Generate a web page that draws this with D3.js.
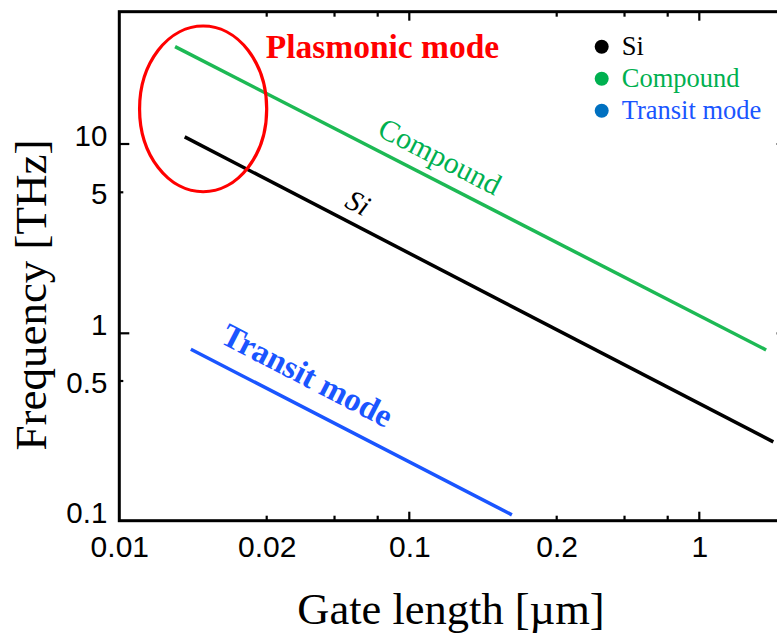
<!DOCTYPE html>
<html>
<head>
<meta charset="utf-8">
<script src="https://cdn.jsdelivr.net/npm/d3@7/dist/d3.min.js"></script>
<style>
  html, body { margin: 0; padding: 0; background: #fff; }
  svg { display: block; }
</style>
</head>
<body>
<svg id="chart" width="777" height="637"></svg>
<script>
// Gate length (µm) vs. cut-off frequency (THz), log–log
const siGate = [0.0136, 1.80];
const siFreq = [10.9, 0.248];
const compoundGate = [0.0130, 1.70];
const compoundFreq = [32.7, 0.785];
const transitGate = [0.0140, 0.162];
const transitFreq = [0.793, 0.107];

// Region highlighted as the plasmonic regime
const plasmonGate = [0.011, 0.02];
const plasmonFreq = [5.04, 42];

// Axis ticks
const xTickValues = [0.01, 0.02, 0.1, 0.2, 1];
const xTickLabels = ["0.01", "0.02", "0.1", "0.2", "1"];
const xMinorTicks = [0.043, 0.07, 0.43, 0.7];
const yTickValues = [0.1, 0.5, 1, 5, 10];
const yTickLabels = ["0.1", "0.5", "1", "5", "10"];
const xExtent = [0.01, 2];
const yExtent = [0.1, 50];

const legendLabels = ["Si", "Compound", "Transit mode"];
const legendDots = ["#000000", "#00b050", "#0070c0"];
const legendText = ["#000000", "#00b050", "#1a55ff"];

const serif = "'Liberation Serif', 'Times New Roman', serif";
const sans = "'Liberation Sans', Arial, sans-serif";

const svg = d3.select("#chart");

// Piecewise log scales: each labelled tick is an anchor of the axis
const x = d3.scaleLog()
  .domain([0.01, 0.02, 0.1, 0.2, 1, 10])
  .range([119.3, 266.7, 409.3, 556.7, 699.3, 989.3]);
const y = d3.scaleLog()
  .domain([0.1, 0.5, 1, 5, 10, 100])
  .range([520.7, 381, 333.3, 192.3, 144, -45.3]);

const x0 = x(xExtent[0]), x1 = x(xExtent[1]);
const y0 = y(yExtent[0]), y1 = y(yExtent[1]);

const isDecade = v => Math.abs(Math.log10(v) - Math.round(Math.log10(v))) < 1e-9;

// Tick marks, drawn inward on all four sides
const ticks = svg.append("g").attr("stroke", "#000").attr("stroke-width", 2.2);
const xAll = xTickValues.concat(xMinorTicks).filter(v => v !== xExtent[0]);
xAll.forEach(v => {
  const len = isDecade(v) ? 9 : 5;
  ticks.append("line").attr("x1", x(v)).attr("x2", x(v)).attr("y1", y0).attr("y2", y0 - len);
  ticks.append("line").attr("x1", x(v)).attr("x2", x(v)).attr("y1", y1).attr("y2", y1 + len);
});
yTickValues.filter(v => v !== yExtent[0]).forEach(v => {
  const len = isDecade(v) ? 10 : 4;
  ticks.append("line").attr("x1", x0).attr("x2", x0 + len).attr("y1", y(v)).attr("y2", y(v));
  ticks.append("line").attr("x1", x1).attr("x2", x1 - len).attr("y1", y(v)).attr("y2", y(v));
});

// Frame
svg.append("rect")
  .attr("x", x0).attr("y", y1)
  .attr("width", x1 - x0).attr("height", y0 - y1)
  .attr("fill", "none").attr("stroke", "#000").attr("stroke-width", 3);

// Tick labels through d3 axes
const xAxis = d3.axisBottom(x).tickValues(xTickValues)
  .tickFormat((d, i) => xTickLabels[i]).tickSize(0).tickPadding(15);
const gx = svg.append("g").attr("transform", `translate(0,${y0})`).call(xAxis);
gx.select(".domain").remove();
gx.selectAll("text").attr("font-family", sans).attr("font-size", 30).attr("fill", "#000")
  .attr("dy", "0.71em");

const yAxis = d3.axisLeft(y).tickValues(yTickValues)
  .tickFormat((d, i) => yTickLabels[i]).tickSize(0).tickPadding(12);
const gy = svg.append("g").attr("transform", `translate(${x0},0)`).call(yAxis);
gy.select(".domain").remove();
gy.selectAll("text").attr("font-family", sans).attr("font-size", 29.5).attr("fill", "#000")
  .attr("dy", d => isDecade(d) ? "0.05em" : "0.38em");

// Axis titles
svg.append("text")
  .attr("x", 451).attr("y", 624)
  .attr("text-anchor", "middle")
  .attr("font-family", serif).attr("font-size", 44.5).attr("fill", "#000")
  .text("Gate length [µm]");
svg.append("text")
  .attr("transform", `translate(46,${295}) rotate(-90)`)
  .attr("text-anchor", "middle")
  .attr("font-family", serif).attr("font-size", 45).attr("fill", "#000")
  .text("Frequency [THz]");

// Trend lines
const series = [
  { gate: compoundGate, freq: compoundFreq, color: "#1db954", label: "Compound", t: 0.43, off: 23,
    font: { size: 30, weight: "normal", style: "normal", color: "#00b050" } },
  { gate: siGate, freq: siFreq, color: "#000000", label: "Si", t: 0.278, off: 21,
    font: { size: 29, weight: "normal", style: "italic", color: "#000" } },
  { gate: transitGate, freq: transitFreq, color: "#1a55ff", label: "Transit mode", t: 0.32, off: 30,
    font: { size: 33, weight: "bold", style: "normal", color: "#1a55ff" } }
];

const line = d3.line().x(d => x(d[0])).y(d => y(d[1]));

series.forEach(s => {
  const pts = d3.zip(s.gate, s.freq);
  svg.append("path")
    .attr("d", line(pts))
    .attr("fill", "none").attr("stroke", s.color).attr("stroke-width", 3.5);

  // Label rides along the line, shifted to its upper side
  const ax = x(pts[0][0]), ay = y(pts[0][1]);
  const bx = x(pts[1][0]), by = y(pts[1][1]);
  const ang = Math.atan2(by - ay, bx - ax);
  const px = ax + (bx - ax) * s.t + Math.sin(ang) * s.off;
  const py = ay + (by - ay) * s.t - Math.cos(ang) * s.off;
  svg.append("text")
    .attr("transform", `translate(${px},${py}) rotate(${ang * 180 / Math.PI})`)
    .attr("text-anchor", "middle").attr("dy", "0.33em")
    .attr("font-family", serif).attr("font-size", s.font.size)
    .attr("font-weight", s.font.weight).attr("font-style", s.font.style)
    .attr("fill", s.font.color)
    .text(s.label);
});

// Plasmonic regime outline
const ex0 = x(plasmonGate[0]), ex1 = x(plasmonGate[1]);
const ey0 = y(plasmonFreq[0]), ey1 = y(plasmonFreq[1]);
svg.append("ellipse")
  .attr("cx", (ex0 + ex1) / 2).attr("cy", (ey0 + ey1) / 2)
  .attr("rx", (ex1 - ex0) / 2).attr("ry", (ey0 - ey1) / 2)
  .attr("fill", "none").attr("stroke", "#ff0000").attr("stroke-width", 3.2);

svg.append("text")
  .attr("x", ex1 - 1).attr("y", y1 + 46)
  .attr("font-family", serif).attr("font-size", 33.5).attr("font-weight", "bold")
  .attr("fill", "#ff0000")
  .text("Plasmonic mode");

// Legend
const legend = svg.append("g").attr("transform", "translate(601.7,46.7)");
legendLabels.forEach((lab, i) => {
  const row = legend.append("g").attr("transform", `translate(0,${i * 32})`);
  row.append("circle").attr("r", 7).attr("fill", legendDots[i]);
  row.append("text").attr("x", 20).attr("y", 8.5)
    .attr("font-family", serif).attr("font-size", 26.5).attr("fill", legendText[i])
    .text(lab);
});
</script>
</body>
</html>
